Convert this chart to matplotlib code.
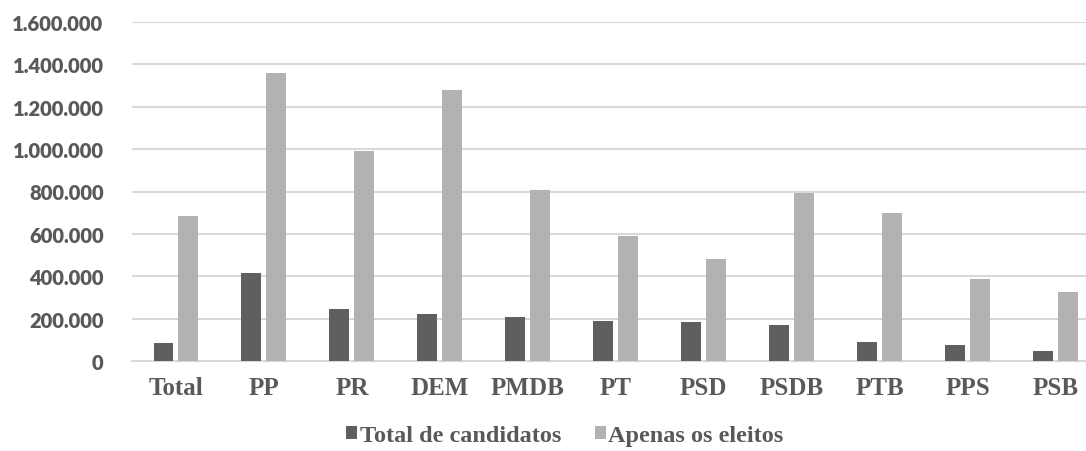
import matplotlib.pyplot as plt
import matplotlib.ticker as mticker
import numpy as np

# Dados
partidos = ["Total", "PP", "PR", "DEM", "PMDB", "PT", "PSD", "PSDB", "PTB", "PPS", "PSB"]
total_candidatos = [85000, 413000, 247000, 220000, 210000, 187000, 184000, 172000, 88000, 77000, 46000]
apenas_eleitos = [685000, 1360000, 993000, 1280000, 805000, 590000, 483000, 794000, 700000, 387000, 326000]

cor_escura = "#5f5f5f"
cor_clara = "#b2b2b2"
cor_texto = "#595959"

fig = plt.figure(figsize=(10.86, 4.52), dpi=100)
# eixo um pouco além da borda direita, como no original (recortado)
ax = fig.add_axes([132 / 1086, 1 - 362 / 452, (1099.5 - 132) / 1086, (362 - 23) / 452])

x = np.arange(len(partidos))
largura = 0.227
desloc = 0.142
ax.bar(x - desloc, total_candidatos, largura, color=cor_escura, label="Total de candidatos", zorder=3)
ax.bar(x + desloc, apenas_eleitos, largura, color=cor_clara, label="Apenas os eleitos", zorder=3)

ax.set_xlim(-0.5, 10.5)
ax.set_ylim(0, 1600000)
ax.yaxis.set_major_locator(mticker.MultipleLocator(200000))
ax.yaxis.set_major_formatter(mticker.FuncFormatter(lambda v, p: f"{int(v):,}".replace(",", ".")))
ax.grid(axis="y", color="#d9d9d9", linewidth=1.5, zorder=0)

for s in ["top", "right", "left"]:
    ax.spines[s].set_visible(False)
ax.spines["bottom"].set_color("#d9d9d9")
ax.spines["bottom"].set_linewidth(1.5)
ax.tick_params(length=0)

ax.set_xticks(x)
ax.set_xticklabels(partidos, family="Liberation Serif", fontweight="bold", fontsize=18, color=cor_texto)
for lbl in ax.get_yticklabels():
    lbl.set_family("Lato")
    lbl.set_fontweight("heavy")
    lbl.set_fontsize(14.5)
    lbl.set_color(cor_texto)
ax.tick_params(axis="y", pad=20.5)
ax.tick_params(axis="x", pad=11)

leg = fig.legend(loc="center", bbox_to_anchor=(565 / 1086, 1 - 437 / 452), ncol=2, frameon=False,
                 prop={"family": "Liberation Serif", "weight": "bold", "size": 17.5},
                 handlelength=0.45, handleheight=0.45, handletextpad=0.1, columnspacing=1.4)
for t in leg.get_texts():
    t.set_color(cor_texto)

fig.savefig("out.png", dpi=100)
